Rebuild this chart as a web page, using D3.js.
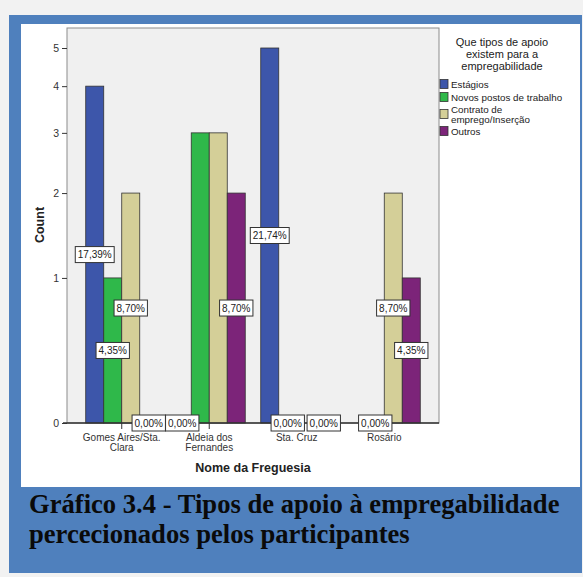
<!DOCTYPE html>
<html><head><meta charset="utf-8">
<script src="https://cdn.jsdelivr.net/npm/d3@7"></script>
<style>html,body{margin:0;padding:0;background:#f2f2f2;}svg{display:block;}</style>
</head><body>
<svg id="c" width="583" height="577"></svg>
<script>
const categories = [["Gomes Aires/Sta.","Clara"],["Aldeia dos","Fernandes"],["Sta. Cruz"],["Rosário"]];
const seriesNames = ["Estágios","Novos postos de trabalho","Contrato de\nemprego/Inserção","Outros"];
const seriesColors = ["#3d56aa","#2fb84a","#d4cf98","#7c2479"];
// counts per series, by category
const estagios = [4,0,5,0];
const novos = [1,3,0,0];
const contrato = [2,3,0,2];
const outros = [0,2,0,1];
// percentage labels as shown (null = label not displayed)
const lblEstagios = ["17,39%","0,00%","21,74%",null];
const lblNovos = ["4,35%",null,"0,00%","0,00%"];
const lblContrato = ["8,70%",null,null,"8,70%"];
const lblOutros = ["0,00%","8,70%","0,00%","4,35%"];
const yTicks = [0,1,2,3,4,5];
const legendTitle = ["Que tipos de apoio","existem para a","empregabilidade"];
const yTitle = "Count";
const xTitle = "Nome da Freguesia";
const caption = ["Gráfico 3.4 - Tipos de apoio à empregabilidade","percecionados pelos participantes"];

const series = [estagios,novos,contrato,outros];
const labels = [lblEstagios,lblNovos,lblContrato,lblOutros];

const svg = d3.select("#c");
// frame
svg.append("rect").attr("x",9).attr("y",15).attr("width",573).attr("height",558).attr("fill","#4f80bd");
svg.append("rect").attr("x",21).attr("y",24).attr("width",559).attr("height",463).attr("fill","#ffffff");

const L=67,R=439,T=28,B=423;
svg.append("rect").attr("x",L).attr("y",T).attr("width",R-L).attr("height",B-T)
  .attr("fill","#f0f0f0").attr("stroke","#8c8c8c").attr("stroke-width",1);

const catKeys = categories.map(c=>c.join(" "));
const x0 = d3.scaleBand().domain(catKeys).range([L,R]).paddingInner(0.177).paddingOuter(0.214);
const x1 = d3.scaleBand().domain(d3.range(4)).range([0,x0.bandwidth()]);
const y = d3.scaleSymlog().constant(1).domain([0,5]).range([B,48]);

// y axis ticks
const ya = svg.append("g").attr("transform",`translate(${L},0)`)
  .call(d3.axisLeft(y).tickValues(yTicks).tickFormat(d3.format("d")).tickSize(5).tickSizeOuter(0).tickPadding(3));
ya.select(".domain").remove();
ya.selectAll("line").attr("stroke","#333");
ya.selectAll("text").attr("font-family","Liberation Sans, Arial").attr("font-size",10.5).attr("fill","#333");

// bars
const bars = svg.append("g");
series.forEach((s,si)=>{
  bars.selectAll(null).data(s).enter().append("rect")
    .attr("x",(d,i)=>x0(catKeys[i])+x1(si))
    .attr("y",d=>y(d))
    .attr("width",x1.bandwidth())
    .attr("height",d=>B-y(d))
    .attr("fill",seriesColors[si])
    .attr("stroke",d=>d>0?"#333":"none").attr("stroke-width",0.8);
});

// zero line + x axis ticks
const xa = svg.append("g").attr("transform",`translate(0,${B})`)
  .call(d3.axisBottom(x0).tickSize(6).tickSizeOuter(0).tickFormat(""));
xa.select(".domain").attr("d",`M${L-4},0H${R}`).attr("stroke","#333").attr("stroke-width",1.5);
xa.selectAll("line").attr("stroke","#333");

// category labels
categories.forEach((c,i)=>{
  c.forEach((ln,j)=>svg.append("text").attr("x",x0(catKeys[i])+x0.bandwidth()/2).attr("y",440.5+j*10)
    .attr("text-anchor","middle").attr("font-family","Liberation Sans, Arial").attr("font-size",10).attr("fill","#333").text(ln));
});

// value labels
const lg = svg.append("g");
series.forEach((s,si)=>{
  s.forEach((v,i)=>{
    const txt = labels[si][i];
    if(!txt) return;
    const cx = x0(catKeys[i])+x1(si)+x1.bandwidth()/2;
    const cy = (y(v)+B)/2;
    const g = lg.append("g");
    const t = g.append("text").attr("x",cx).attr("y",cy+3.5).attr("text-anchor","middle")
      .attr("font-family","Liberation Sans, Arial").attr("font-size",10).attr("fill","#222").text(txt);
    const w = t.node().getComputedTextLength()+5;
    g.insert("rect","text").attr("x",cx-w/2).attr("y",cy-8).attr("width",w).attr("height",16)
      .attr("fill","#fff").attr("stroke","#333").attr("stroke-width",1);
  });
});

// axis titles
svg.append("text").attr("transform","translate(44,225) rotate(-90)").attr("text-anchor","middle")
  .attr("font-family","Liberation Sans, Arial").attr("font-weight","bold").attr("font-size",12.5).attr("fill","#222").text(yTitle);
svg.append("text").attr("x",253).attr("y",472).attr("text-anchor","middle")
  .attr("font-family","Liberation Sans, Arial").attr("font-weight","bold").attr("font-size",12.5).attr("fill","#222").text(xTitle);

// legend
legendTitle.forEach((ln,i)=>svg.append("text").attr("x",502).attr("y",46+i*12).attr("text-anchor","middle")
  .attr("font-family","Liberation Sans, Arial").attr("font-size",11).attr("fill","#222").text(ln));
const legY = [84,97,114,131];
seriesNames.forEach((n,i)=>{
  svg.append("rect").attr("x",440).attr("y",legY[i]-4.5).attr("width",8).attr("height",9)
    .attr("fill",seriesColors[i]).attr("stroke","#333").attr("stroke-width",0.8);
  const lines = n.split("\n");
  lines.forEach((ln,j)=>svg.append("text").attr("x",451).attr("y",legY[i]+3.5+(lines.length>1?(j*10-5):0))
    .attr("font-family","Liberation Sans, Arial").attr("font-size",9.8).attr("fill","#222").text(ln));
});

// caption
caption.forEach((ln,i)=>svg.append("text").attr("x",29).attr("y",513+i*30)
  .attr("font-family","Liberation Serif, Times New Roman, serif").attr("font-weight","bold").attr("font-size",26.6).attr("fill","#0a0a0a").text(ln));
</script>
</body></html>
